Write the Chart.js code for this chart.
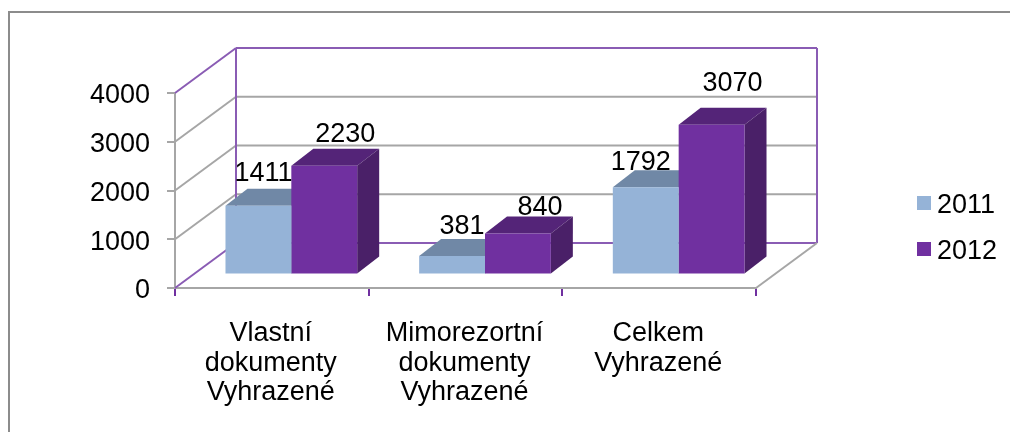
<!DOCTYPE html>
<html>
<head>
<meta charset="utf-8">
<style>
html, body { margin: 0; padding: 0; background: #fff; }
#wrap { position: relative; width: 1010px; height: 432px; overflow: hidden; }
#frame { position: absolute; left: 8px; top: 11px; width: 1100px; height: 500px; border: 2px solid #8c8c8c; }
canvas { position: absolute; left: 0; top: 0; }
</style>
<script src="https://cdn.jsdelivr.net/npm/chart.js@4"></script>
</head>
<body>
<div id="wrap">
  <div id="frame"></div>
  <canvas id="chart" width="1010" height="432"></canvas>
</div>
<script>
const categories = [
    ['Vlastní', 'dokumenty', 'Vyhrazené'],
    ['Mimorezortní', 'dokumenty', 'Vyhrazené'],
    ['Celkem', 'Vyhrazené']
];
const values2011 = [1411, 381, 1792];
const values2012 = [2230, 840, 3070];
const yTicks = [0, 1000, 2000, 3000, 4000];

const fontName = '"Liberation Sans", Arial, sans-serif';
const fontSize = 27;
const gray = '#a6a6a6';
const purple = '#8a5cb4';

// 3d look: how far the back wall sits from the front plane, and the bars from the front plane
const wallDx = 61, wallDy = -45;
const barDx = 19.5, barDy = -13.5;
const sideDx = 22, sideDy = -17;

// hand placed labels in the original, offset from the default spot above each bar
const labelShift = [
    [[5, -32], [21, -31]],
    [[10, -29], [22, -26]],
    [[-5, -25], [21, -41]]
];

function line(ctx, x1, y1, x2, y2, color) {
    ctx.strokeStyle = color;
    ctx.lineWidth = 2;
    ctx.beginPath();
    ctx.moveTo(x1, y1);
    ctx.lineTo(x2, y2);
    ctx.stroke();
}

function poly(ctx, pts, color) {
    ctx.fillStyle = color;
    ctx.beginPath();
    pts.forEach((p, i) => i ? ctx.lineTo(p[0], p[1]) : ctx.moveTo(p[0], p[1]));
    ctx.closePath();
    ctx.fill();
}

const walls = {
    id: 'walls',
    beforeDatasetsDraw(chart) {
        const ctx = chart.ctx, y = chart.scales.y, a = chart.chartArea;
        const bx = a.left + wallDx, rx = a.right + wallDx;
        ctx.save();
        yTicks.forEach(v => {
            const py = y.getPixelForValue(v);
            if (v > 0 && v < 4000) {
                line(ctx, a.left, py, bx, py + wallDy, gray);
                line(ctx, bx, py + wallDy, rx, py + wallDy, gray);
            }
        });
        const top = a.top + wallDy, bottom = a.bottom + wallDy;
        line(ctx, a.left, a.top, bx, top, purple);
        line(ctx, a.left, a.bottom, bx, bottom, purple);
        line(ctx, bx, top, rx, top, purple);
        line(ctx, bx, bottom, rx, bottom, purple);
        line(ctx, bx, top, bx, bottom, purple);
        line(ctx, rx, top, rx, bottom, purple);
        line(ctx, a.right, a.bottom, rx, bottom, gray);
        ctx.restore();
    }
};

const bars3d = {
    id: 'bars3d',
    beforeDatasetsDraw(chart) {
        const ctx = chart.ctx;
        chart.data.datasets.forEach((ds, i) => {
            chart.getDatasetMeta(i).data.forEach(bar => {
                const l = bar.x - bar.width / 2 + barDx, r = bar.x + bar.width / 2 + barDx;
                const t = bar.y + barDy, b = bar.base + barDy;
                poly(ctx, [[l, t], [l + sideDx, t + sideDy], [r + sideDx, t + sideDy], [r, t]], ds.topColor);
                poly(ctx, [[r, t], [r + sideDx, t + sideDy], [r + sideDx, b + sideDy], [r, b]], ds.sideColor);
            });
        });
        ctx.save();
        ctx.translate(barDx, barDy);
    },
    afterDatasetsDraw(chart) {
        const ctx = chart.ctx;
        ctx.restore();
        ctx.fillStyle = '#000';
        ctx.font = fontSize + 'px ' + fontName;
        ctx.textAlign = 'center';
        ctx.textBaseline = 'middle';
        chart.data.datasets.forEach((ds, i) => {
            chart.getDatasetMeta(i).data.forEach((bar, j) => {
                const s = labelShift[j][i];
                ctx.fillText(ds.data[j], bar.x + barDx + s[0], bar.y + barDy + s[1]);
            });
        });
        // legend
        const lx = 917, ly = [203, 249];
        ctx.textAlign = 'left';
        chart.data.datasets.forEach((ds, i) => {
            ctx.fillStyle = ds.backgroundColor;
            ctx.fillRect(lx, ly[i] - 7, 14, 14);
            ctx.fillStyle = '#000';
            ctx.fillText(ds.label, lx + 20, ly[i] + 3);
        });
    }
};

new Chart(document.getElementById('chart').getContext('2d'), {
    type: 'bar',
    data: {
        labels: categories,
        datasets: [
            { label: '2011', data: values2011, backgroundColor: '#95b3d7', topColor: '#7088a6', sideColor: '#6f87a3' },
            { label: '2012', data: values2012, backgroundColor: '#7030a0', topColor: '#542478', sideColor: '#4a2068' }
        ]
    },
    options: {
        responsive: false,
        animation: false,
        layout: { padding: { left: 0, top: 93, right: 254, bottom: 0 } },
        datasets: { bar: { categoryPercentage: 0.68, barPercentage: 1 } },
        plugins: { legend: { display: false }, tooltip: { enabled: false } },
        scales: {
            x: {
                afterFit(s) { s.height = 144; },
                grid: { drawOnChartArea: false, color: '#7030a0', lineWidth: 2, tickLength: 8 },
                border: { color: gray, width: 2 },
                ticks: {
                    color: '#000',
                    padding: 23,
                    labelOffset: -1,
                    maxRotation: 0,
                    autoSkip: false,
                    font: { family: fontName, size: fontSize, lineHeight: 1.09 }
                }
            },
            y: {
                min: 0,
                max: 4000,
                afterFit(s) { s.width = 175; },
                afterBuildTicks(s) { s.ticks = yTicks.map(v => ({ value: v })); },
                grid: { drawOnChartArea: false, color: gray, lineWidth: 2, tickLength: 8 },
                border: { color: gray, width: 2 },
                ticks: {
                    color: '#000',
                    padding: 17,
                    labelOffset: 3,
                    callback: v => String(v),
                    font: { family: fontName, size: fontSize }
                }
            }
        }
    },
    plugins: [walls, bars3d]
});
</script>
</body>
</html>
